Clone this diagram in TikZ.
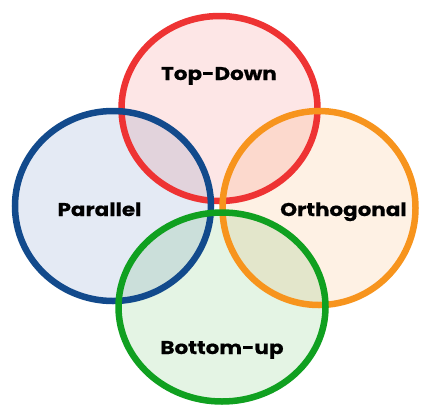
\documentclass[tikz,border=0pt]{standalone}
\usepackage{fontspec}
\setmainfont{Poppins}
\newfontfamily\lblfont{Poppins}[FakeStretch=1.16, BoldFeatures={FakeBold=0.6}]
\usetikzlibrary{shapes.geometric}
\definecolor{redline}{HTML}{EE3333}
\definecolor{redfill}{HTML}{FDE6E6}
\definecolor{blueline}{HTML}{124A8C}
\definecolor{bluefill}{HTML}{E4EAF4}
\definecolor{orangeline}{HTML}{F7941D}
\definecolor{orangefill}{HTML}{FEF1E4}
\definecolor{greenline}{HTML}{10A020}
\definecolor{greenfill}{HTML}{E4F4E4}
\tikzset{
  blob/.style={ellipse, inner sep=0pt, line width=6.5pt},
  lbl/.style={font=\lblfont\bfseries\fontsize{18.5}{20}\selectfont, text=black, anchor=base, inner sep=0pt}
}
\begin{document}
\begin{tikzpicture}[x=1pt,y=-1pt]
\useasboundingbox (0,0) rectangle (422,410);
\fill[white] (0,0) rectangle (422,410);
\begin{scope}[blend group=multiply]
  \node[blob, fill=redfill, minimum width=196pt, minimum height=185pt] at (219.5,108.5) {};
  \node[blob, fill=bluefill, minimum width=196pt, minimum height=190pt] at (113,206) {};
  \node[blob, fill=orangefill, minimum width=193pt, minimum height=194pt] at (319,208) {};
  \node[blob, fill=greenfill, minimum width=207pt, minimum height=189pt] at (222,307) {};
\end{scope}
\node[blob, draw=redline, minimum width=196pt, minimum height=185pt] (top) at (219.5,108.5) {};
\node[blob, draw=blueline, minimum width=196pt, minimum height=190pt] (par) at (113,206) {};
\node[blob, draw=orangeline, minimum width=193pt, minimum height=194pt] (orth) at (319,208) {};
\node[blob, draw=greenline, minimum width=207pt, minimum height=189pt] (bot) at (222,307) {};
\node[lbl] (ttop) at (219,80) {Top-Down};
\node[lbl] (tpar) at (99.5,216) {Parallel};
\node[lbl] (torth) at (343.5,216) {Orthogonal};
\node[lbl] (tbot) at (222,354) {Bottom-up};
\end{tikzpicture}
\end{document}
